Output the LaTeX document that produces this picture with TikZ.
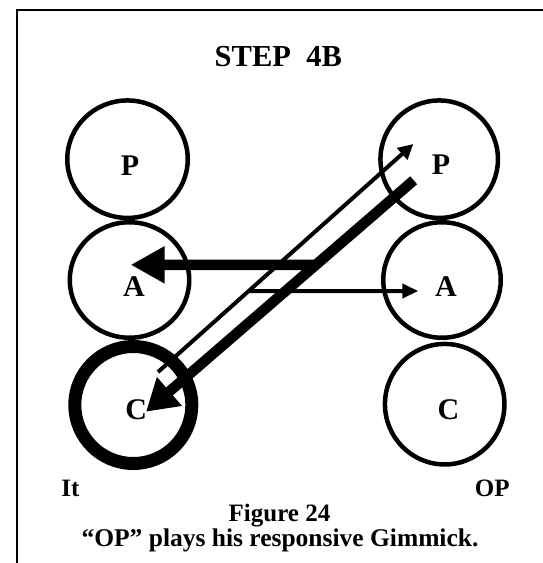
\documentclass[tikz,border=0pt]{standalone}
\usepackage{fontspec}
\setmainfont{Liberation Serif}
\usetikzlibrary{arrows.meta,shapes.geometric,calc}
\begin{document}
\begin{tikzpicture}[x=1pt,y=-1pt,
  ring/.style={ellipse, draw, line width=4.5pt, inner sep=0pt, outer sep=0pt},
  letter/.style={font=\bfseries\fontsize{30}{30}\selectfont, inner sep=0pt, anchor=base},
  small/.style={font=\bfseries\fontsize{25}{25}\selectfont, inner sep=0pt, anchor=base},
  bigarrow/.style={line width=10.5pt, -{Triangle[length=31pt,width=36pt]}},
  thinarrow/.style={line width=4pt, -{Triangle[length=15pt,width=15pt]}}]
\useasboundingbox (0,0) rectangle (543,563);
% frame
\draw[line width=2pt, line join=miter] (16.6,563) -- (16.6,9.7) -- (543,9.7);
% title
\node[font=\bfseries\fontsize{30.5}{30.5}\selectfont, inner sep=0pt, anchor=base] (title) at (278.3,66.7) {STEP\ \ 4B};
% circles
\node[ring, minimum width=120.5pt, minimum height=117.5pt] (LP) at (127.5,159.2) {};
\node[ring, minimum width=119.5pt, minimum height=115.5pt] (LA) at (129.5,280) {};
\node[ring, line width=13pt, minimum width=117pt, minimum height=117pt] (LC) at (133.3,405) {};
\node[ring, minimum width=117.5pt, minimum height=117.5pt] (RP) at (439.2,159.2) {};
\node[ring, minimum width=117.5pt, minimum height=115.5pt] (RA) at (442,280) {};
\node[ring, minimum width=119.5pt, minimum height=120.5pt] (RC) at (444.7,404.2) {};
% letters
\node[letter] (tLP) at (130,175.7) {P};
\node[letter] (tLA) at (134,296.7) {A};
\node[letter] (tLC) at (136.3,419.7) {C};
\node[letter] (tRP) at (441,174) {P};
\node[letter] (tRA) at (446,296.7) {A};
\node[letter] (tRC) at (448.5,419.7) {C};
% labels
\node[small] (it) at (70.5,496.7) {It};
\node[small] (op) at (492.3,496.7) {OP};
\node[small] (fig) at (279.5,521.7) {Figure 24};
\node[font=\bfseries\fontsize{25.5}{25.5}\selectfont, inner sep=0pt, anchor=base] (cap) at (280,546) {“OP” plays his responsive Gimmick.};
% arrow end points
\coordinate (thkS) at (413.7,180.3);
\coordinate (thkT) at (146,411.7);
\coordinate (thnS) at (158,372);
\coordinate (thnT) at (413.3,144);
\coordinate (thkB) at ($(thkS)!0.366!(thkT)$);
\coordinate (thkH) at (130.7,264.8);
\coordinate (thnB) at ($(thnS)!0.355!(thnT)$);
\coordinate (thnH) at (418.3,291);
% arrows
\draw[thinarrow] (thnS) -- (thnT);
\draw[line width=4pt, -{Triangle[length=16pt,width=14pt]}] (thnB) -- (thnH);
\draw[bigarrow] (thkS) -- (thkT);
\draw[line width=10.5pt, -{Triangle[length=34pt,width=35pt]}] (thkB) -- (thkH);
\end{tikzpicture}
\end{document}
